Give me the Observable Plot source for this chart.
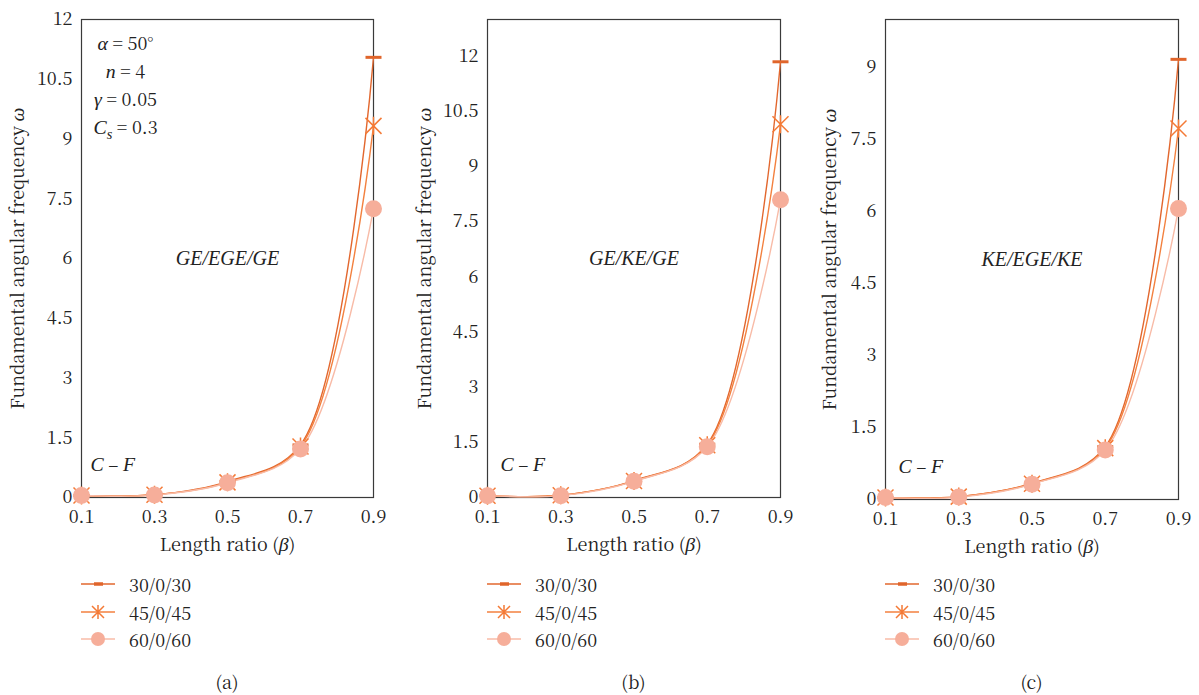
<!DOCTYPE html>
<html><head><meta charset="utf-8">
<script src="https://cdn.jsdelivr.net/npm/d3@7"></script>
<script src="https://cdn.jsdelivr.net/npm/@observablehq/plot@0.6"></script>
<style>
body{margin:0;background:#fff;font-family:"Noto Serif CJK SC","Liberation Serif",serif;color:#222;}
#wrap{display:flex;width:1199px;height:695px;}
.panel{position:relative;height:695px;}
.panel svg{display:block;}
.row{position:absolute;display:flex;align-items:center;height:20px;font-size:18px;line-height:20px;}
.row svg{margin-right:14px;overflow:visible;}
.caption{position:absolute;font-size:18px;transform:translateX(-50%);top:668px;}
</style></head><body><div id="wrap"></div>
<script>
// ---- data ----
const beta = [0.1, 0.3, 0.5, 0.7, 0.9];
const series = ["30/0/30", "45/0/45", "60/0/60"];
const a30 = [0.05, 0.07, 0.40, 1.32, 11.05];
const a45 = [0.05, 0.07, 0.38, 1.28, 9.33];
const a60 = [0.05, 0.06, 0.37, 1.22, 7.25];
const b30 = [0.05, 0.06, 0.46, 1.45, 11.85];
const b45 = [0.05, 0.06, 0.45, 1.42, 10.15];
const b60 = [0.05, 0.05, 0.44, 1.38, 8.10];
const c30 = [0.04, 0.06, 0.34, 1.10, 9.17];
const c45 = [0.04, 0.06, 0.33, 1.07, 7.73];
const c60 = [0.04, 0.05, 0.32, 1.03, 6.06];
const yTicksAB = [0, 1.5, 3, 4.5, 6, 7.5, 9, 10.5, 12];
const yTicksC = [0, 1.5, 3, 4.5, 6, 7.5, 9];
const yMax = [12, 13, 10];
const layupLabels = ["GE/EGE/GE", "GE/KE/GE", "KE/EGE/KE"];
const captions = ["(a)", "(b)", "(c)"];
const params = ["α = 50°", "n = 4", "γ = 0.05", "Cs = 0.3"];
const bcLabel = "C – F";
const xTitle = "Length ratio (β)";
const yTitle = "Fundamental angular frequency ω";

// ---- style ----
const FONT = "'Noto Serif CJK SC', 'Liberation Serif', serif";
const IFONT = "'Liberation Serif', serif";
const colors = ["#e0652b", "#f47a36", "#f6ae9a"];
const lineColors = ["#e2672e", "#f3813f", "#f8bba7"];
const panels = [
  {vals: [a30, a45, a60], ticks: yTicksAB, width: 400, ml: 81, mr: 27, mb: 63, ytdx: -63, cfdx: 9},
  {vals: [b30, b45, b60], ticks: yTicksAB, width: 400, ml: 87, mr: 20, mb: 63, ytdx: -62, cfdx: 13},
  {vals: [c30, c45, c60], ticks: yTicksC, width: 399, ml: 85, mr: 21, mb: 61, ytdx: -55, cfdx: 13}
];

const dashSym = {draw(ctx) { ctx.moveTo(-8, 0); ctx.lineTo(8, 0); }};
const astSym = {draw(ctx) {
  ctx.moveTo(-8, -8); ctx.lineTo(8, 8);
  ctx.moveTo(-8, 8); ctx.lineTo(8, -8);
  ctx.moveTo(0, -9); ctx.lineTo(0, 9);
}};

const rich = {
  "α = 50°": [["α", "i"], [" = 50°", ""]],
  "n = 4": [["n", "i"], [" = 4", ""]],
  "γ = 0.05": [["γ", "i"], [" = 0.05", ""]],
  "Cs = 0.3": [["C", "i"], ["s", "sub"], [" = 0.3", "unsub"]],
  "Length ratio (β)": [["Length ratio (", ""], ["β", "i"], [")", ""]],
  "Fundamental angular frequency ω": [["Fundamental angular frequency ", ""], ["ω", "i"]],
  "C – F": [["C", "i"], [" – ", ""], ["F", "i"]]
};
function richify(svg) {
  d3.select(svg).selectAll("text").each(function() {
    const t = this.textContent;
    if (!rich[t]) return;
    const el = d3.select(this);
    el.text(null);
    for (const [s, k] of rich[t]) {
      const ts = el.append("tspan").text(s);
      if (k === "i" || k === "sub") ts.attr("font-style", "italic").attr("font-family", IFONT).attr("font-size", "1.1em");
      if (k === "sub") ts.attr("dy", 5).attr("font-size", "0.8em");
      if (k === "unsub") ts.attr("dy", -5);
    }
  });
}

const wrap = document.getElementById("wrap");
panels.forEach((p, pi) => {
  const div = document.createElement("div");
  div.className = "panel";
  div.style.width = p.width + "px";
  const tables = p.vals.map((v, si) => beta.map((b, i) => ({beta: b, w: v[i], s: series[si]})));
  const marks = [
    Plot.frame({stroke: "#3a3a3a", strokeWidth: 1.2}),
    ...tables.map((t, si) => Plot.line(t, {x: "beta", y: "w", stroke: lineColors[si], strokeWidth: 1.4, curve: "catmull-rom"})),
    Plot.dot(tables[0], {x: "beta", y: "w", symbol: dashSym, stroke: colors[0], strokeWidth: 3, fill: "none"}),
    Plot.dot(tables[1], {x: "beta", y: "w", symbol: astSym, stroke: colors[1], strokeWidth: 1.5, fill: "none"}),
    Plot.dot(tables[2], {x: "beta", y: "w", r: 8.5, fill: colors[2], stroke: "none"}),
    Plot.axisY({ticks: p.ticks, tickSize: 0, tickPadding: 9, label: null, tickFormat: d => String(d), fontFamily: FONT}),
    Plot.axisX({ticks: beta, tickSize: 0, tickPadding: 13, label: null, tickFormat: d => d.toFixed(1), fontFamily: FONT}),
    Plot.text([layupLabels[pi]], {frameAnchor: "middle", fontStyle: "italic", fontSize: 20, fill: "#222", fontFamily: IFONT}),
    Plot.text([bcLabel], {frameAnchor: "bottom-left", textAnchor: "start", dx: p.cfdx, dy: -27, fontSize: 18, fill: "#222", fontFamily: FONT}),
    Plot.text([xTitle], {frameAnchor: "bottom", dy: 53, fontSize: 18, fill: "#222", fontFamily: FONT}),
    Plot.text([yTitle], {frameAnchor: "left", textAnchor: "middle", rotate: -90, dx: p.ytdx, fontSize: 18, fill: "#222", fontFamily: FONT})
  ];
  if (pi === 0) {
    params.forEach((t, k) => marks.push(Plot.text([t], {frameAnchor: "top-left", textAnchor: "middle", dx: 44, dy: 18 + 28 * k, fontSize: 18, fill: "#222", fontFamily: FONT})));
  }
  const svg = Plot.plot({
    width: p.width, height: 560,
    marginLeft: p.ml, marginRight: p.mr, marginTop: 19, marginBottom: p.mb,
    x: {domain: [0.1, 0.9]},
    y: {domain: [0, yMax[pi]]},
    style: {fontFamily: FONT, fontSize: "18px", color: "#222", background: "white", overflow: "visible"},
    marks
  });
  richify(svg);
  div.appendChild(svg);
  // legend
  series.forEach((s, si) => {
    const row = document.createElement("div");
    row.className = "row";
    row.style.left = p.ml + "px";
    row.style.top = (574 + 27.5 * si) + "px";
    const sw = d3.create("svg").attr("width", 34).attr("height", 20);
    sw.append("line").attr("x1", 0).attr("x2", 34).attr("y1", 10).attr("y2", 10).attr("stroke", lineColors[si]).attr("stroke-width", 1.6);
    if (si === 0) sw.append("line").attr("x1", 13).attr("x2", 22).attr("y1", 10).attr("y2", 10).attr("stroke", colors[0]).attr("stroke-width", 3.5);
    if (si === 1) sw.append("path").attr("d", "M11,4L23,16M11,16L23,4M17,3L17,17").attr("stroke", colors[1]).attr("stroke-width", 1.5).attr("fill", "none");
    if (si === 2) sw.append("circle").attr("cx", 17).attr("cy", 10).attr("r", 7).attr("fill", colors[2]);
    row.appendChild(sw.node());
    const tx = document.createElement("span");
    tx.textContent = s;
    row.appendChild(tx);
    div.appendChild(row);
  });
  const cap = document.createElement("div");
  cap.className = "caption";
  cap.style.left = (p.ml + (p.width - p.ml - p.mr) / 2) + "px";
  cap.textContent = captions[pi];
  div.appendChild(cap);
  wrap.appendChild(div);
});
</script>
</body></html>
